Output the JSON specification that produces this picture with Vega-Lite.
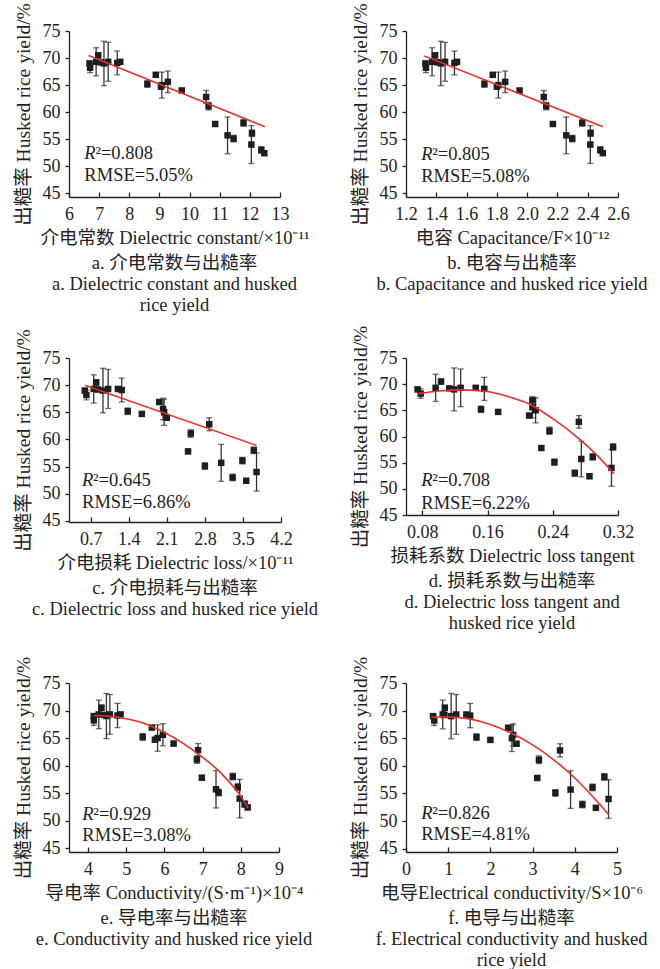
{
"$schema": "https://vega.github.io/schema/vega-lite/v6.json",
"padding": {"left": 12, "top": 2, "right": 5, "bottom": 2},
"bounds": "flush",
"columns": 2,
"spacing": {"row": 161, "column": 125},
"datasets": {
"pts": [
{"p":"a","x":6.68,"y":69.0,"e":0.4},{"p":"a","x":6.70,"y":68.2,"e":0.9},{"p":"a","x":6.90,"y":69.3,"e":2.6},{"p":"a","x":6.97,"y":70.5,"e":0.5},{"p":"a","x":7.05,"y":69.2,"e":0.4},{"p":"a","x":7.16,"y":69.0,"e":4.1},{"p":"a","x":7.30,"y":69.3,"e":3.6},{"p":"a","x":7.70,"y":69.3,"e":0.3},{"p":"a","x":7.60,"y":69.1,"e":2.2},{"p":"a","x":8.60,"y":65.2,"e":0.6},{"p":"a","x":9.05,"y":64.7,"e":0.3},{"p":"a","x":8.88,"y":66.9,"e":0.3},{"p":"a","x":9.08,"y":65.0,"e":2.4},{"p":"a","x":9.28,"y":65.6,"e":2.0},{"p":"a","x":9.74,"y":64.0,"e":0.4},{"p":"a","x":10.63,"y":61.1,"e":0.7},{"p":"a","x":10.85,"y":57.8,"e":0.4},{"p":"a","x":11.46,"y":55.1,"e":0.6},{"p":"a","x":10.55,"y":62.8,"e":1.2},{"p":"a","x":11.26,"y":55.7,"e":3.4},{"p":"a","x":12.38,"y":53.0,"e":0.6},{"p":"a","x":12.07,"y":56.1,"e":0.6},{"p":"a","x":12.48,"y":52.4,"e":0.4},{"p":"a","x":11.79,"y":58.0,"e":0.6},{"p":"a","x":12.05,"y":54.0,"e":3.5},
{"p":"b","x":1.328,"y":69.0,"e":0.4},{"p":"b","x":1.332,"y":68.2,"e":0.9},{"p":"b","x":1.372,"y":69.3,"e":2.6},{"p":"b","x":1.392,"y":70.5,"e":0.5},{"p":"b","x":1.41,"y":69.2,"e":0.4},{"p":"b","x":1.43,"y":69.0,"e":4.1},{"p":"b","x":1.458,"y":69.3,"e":3.6},{"p":"b","x":1.537,"y":69.3,"e":0.3},{"p":"b","x":1.52,"y":69.1,"e":2.2},{"p":"b","x":1.718,"y":65.2,"e":0.6},{"p":"b","x":1.80,"y":64.7,"e":0.3},{"p":"b","x":1.773,"y":66.9,"e":0.3},{"p":"b","x":1.81,"y":65.0,"e":2.4},{"p":"b","x":1.855,"y":65.6,"e":2.0},{"p":"b","x":1.95,"y":64.0,"e":0.4},{"p":"b","x":2.126,"y":61.1,"e":0.7},{"p":"b","x":2.17,"y":57.8,"e":0.4},{"p":"b","x":2.298,"y":55.1,"e":0.6},{"p":"b","x":2.11,"y":62.8,"e":1.2},{"p":"b","x":2.258,"y":55.7,"e":3.4},{"p":"b","x":2.483,"y":53.0,"e":0.6},{"p":"b","x":2.419,"y":56.1,"e":0.6},{"p":"b","x":2.50,"y":52.4,"e":0.4},{"p":"b","x":2.364,"y":58.0,"e":0.6},{"p":"b","x":2.417,"y":54.0,"e":3.5},
{"p":"c","x":0.59,"y":69.0,"e":0.4},{"p":"c","x":0.62,"y":68.2,"e":0.9},{"p":"c","x":0.755,"y":69.3,"e":2.6},{"p":"c","x":0.80,"y":70.5,"e":0.5},{"p":"c","x":0.83,"y":69.2,"e":0.4},{"p":"c","x":0.925,"y":69.0,"e":4.1},{"p":"c","x":1.02,"y":69.3,"e":3.6},{"p":"c","x":1.2,"y":69.3,"e":0.3},{"p":"c","x":1.27,"y":69.1,"e":2.2},{"p":"c","x":1.38,"y":65.2,"e":0.6},{"p":"c","x":1.64,"y":64.7,"e":0.3},{"p":"c","x":1.96,"y":66.9,"e":0.3},{"p":"c","x":2.05,"y":65.0,"e":2.4},{"p":"c","x":2.03,"y":65.6,"e":2.0},{"p":"c","x":2.1,"y":64.0,"e":0.4},{"p":"c","x":2.54,"y":61.1,"e":0.7},{"p":"c","x":2.49,"y":57.8,"e":0.4},{"p":"c","x":2.8,"y":55.1,"e":0.6},{"p":"c","x":2.88,"y":62.8,"e":1.2},{"p":"c","x":3.1,"y":55.7,"e":3.4},{"p":"c","x":3.31,"y":53.0,"e":0.6},{"p":"c","x":3.49,"y":56.1,"e":0.6},{"p":"c","x":3.56,"y":52.4,"e":0.4},{"p":"c","x":3.7,"y":58.0,"e":0.6},{"p":"c","x":3.75,"y":54.0,"e":3.5},
{"p":"d","x":0.0742,"y":69.0,"e":0.4},{"p":"d","x":0.078,"y":68.2,"e":0.9},{"p":"d","x":0.0963,"y":69.3,"e":2.6},{"p":"d","x":0.103,"y":70.5,"e":0.5},{"p":"d","x":0.113,"y":69.2,"e":0.4},{"p":"d","x":0.119,"y":69.0,"e":4.1},{"p":"d","x":0.127,"y":69.3,"e":3.6},{"p":"d","x":0.1455,"y":69.3,"e":0.3},{"p":"d","x":0.156,"y":69.1,"e":2.2},{"p":"d","x":0.152,"y":65.2,"e":0.6},{"p":"d","x":0.173,"y":64.7,"e":0.3},{"p":"d","x":0.215,"y":66.9,"e":0.3},{"p":"d","x":0.219,"y":65.0,"e":2.4},{"p":"d","x":0.215,"y":65.6,"e":2.0},{"p":"d","x":0.211,"y":64.0,"e":0.4},{"p":"d","x":0.236,"y":61.1,"e":0.7},{"p":"d","x":0.226,"y":57.8,"e":0.4},{"p":"d","x":0.242,"y":55.1,"e":0.6},{"p":"d","x":0.272,"y":62.8,"e":1.2},{"p":"d","x":0.275,"y":55.7,"e":3.4},{"p":"d","x":0.267,"y":53.0,"e":0.6},{"p":"d","x":0.289,"y":56.1,"e":0.6},{"p":"d","x":0.285,"y":52.4,"e":0.4},{"p":"d","x":0.314,"y":58.0,"e":0.6},{"p":"d","x":0.312,"y":54.0,"e":3.5},
{"p":"e","x":4.15,"y":69.0,"e":0.4},{"p":"e","x":4.15,"y":68.2,"e":0.9},{"p":"e","x":4.28,"y":69.3,"e":2.6},{"p":"e","x":4.35,"y":70.5,"e":0.5},{"p":"e","x":4.42,"y":69.2,"e":0.4},{"p":"e","x":4.48,"y":69.0,"e":4.1},{"p":"e","x":4.57,"y":69.3,"e":3.6},{"p":"e","x":4.85,"y":69.3,"e":0.3},{"p":"e","x":4.77,"y":69.1,"e":2.2},{"p":"e","x":5.43,"y":65.2,"e":0.6},{"p":"e","x":5.75,"y":64.7,"e":0.3},{"p":"e","x":5.67,"y":66.9,"e":0.3},{"p":"e","x":5.82,"y":65.0,"e":2.4},{"p":"e","x":5.96,"y":65.6,"e":2.0},{"p":"e","x":6.24,"y":64.0,"e":0.4},{"p":"e","x":6.85,"y":61.1,"e":0.7},{"p":"e","x":6.98,"y":57.8,"e":0.4},{"p":"e","x":7.42,"y":55.1,"e":0.6},{"p":"e","x":6.88,"y":62.8,"e":1.2},{"p":"e","x":7.35,"y":55.7,"e":3.4},{"p":"e","x":8.10,"y":53.0,"e":0.6},{"p":"e","x":7.92,"y":56.1,"e":0.6},{"p":"e","x":8.18,"y":52.4,"e":0.4},{"p":"e","x":7.79,"y":58.0,"e":0.6},{"p":"e","x":7.97,"y":54.0,"e":3.5},
{"p":"f","x":0.64,"y":69.0,"e":0.4},{"p":"f","x":0.67,"y":68.2,"e":0.9},{"p":"f","x":0.87,"y":69.3,"e":2.6},{"p":"f","x":0.92,"y":70.5,"e":0.5},{"p":"f","x":0.91,"y":69.2,"e":0.4},{"p":"f","x":1.07,"y":69.0,"e":4.1},{"p":"f","x":1.19,"y":69.3,"e":3.6},{"p":"f","x":1.43,"y":69.3,"e":0.3},{"p":"f","x":1.52,"y":69.1,"e":2.2},{"p":"f","x":1.67,"y":65.2,"e":0.6},{"p":"f","x":2.0,"y":64.7,"e":0.3},{"p":"f","x":2.42,"y":66.9,"e":0.3},{"p":"f","x":2.51,"y":65.0,"e":2.4},{"p":"f","x":2.54,"y":65.6,"e":2.0},{"p":"f","x":2.62,"y":64.0,"e":0.4},{"p":"f","x":3.15,"y":61.1,"e":0.7},{"p":"f","x":3.11,"y":57.8,"e":0.4},{"p":"f","x":3.54,"y":55.1,"e":0.6},{"p":"f","x":3.65,"y":62.8,"e":1.2},{"p":"f","x":3.9,"y":55.7,"e":3.4},{"p":"f","x":4.18,"y":53.0,"e":0.6},{"p":"f","x":4.42,"y":56.1,"e":0.6},{"p":"f","x":4.5,"y":52.4,"e":0.4},{"p":"f","x":4.7,"y":58.0,"e":0.6},{"p":"f","x":4.8,"y":54.0,"e":3.5}
],
"fit": [
{"p":"a","x":6.65,"y":70.45},{"p":"a","x":12.5,"y":57.3},
{"p":"b","x":1.32,"y":70.4},{"p":"b","x":2.5,"y":57.3},
{"p":"c","x":0.59,"y":70.0},{"p":"c","x":3.75,"y":58.9},
{"p":"d","x":0.075,"y":68.2},{"p":"d","x":0.10,"y":68.7},{"p":"d","x":0.13,"y":68.9},{"p":"d","x":0.16,"y":68.6},{"p":"d","x":0.19,"y":67.4},{"p":"d","x":0.21,"y":66.3},{"p":"d","x":0.24,"y":63.4},{"p":"d","x":0.272,"y":59.6},{"p":"d","x":0.295,"y":56.3},{"p":"d","x":0.315,"y":52.9},
{"p":"e","x":4.15,"y":69.1},{"p":"e","x":4.5,"y":69.0},{"p":"e","x":5.0,"y":68.5},{"p":"e","x":5.5,"y":67.6},{"p":"e","x":6.0,"y":66.0},{"p":"e","x":6.5,"y":64.0},{"p":"e","x":7.0,"y":61.5},{"p":"e","x":7.5,"y":58.5},{"p":"e","x":8.0,"y":54.4},{"p":"e","x":8.19,"y":52.3},
{"p":"f","x":0.6,"y":68.8},{"p":"f","x":0.9,"y":68.9},{"p":"f","x":1.5,"y":68.5},{"p":"f","x":2.0,"y":67.5},{"p":"f","x":2.5,"y":65.9},{"p":"f","x":3.0,"y":63.8},{"p":"f","x":3.5,"y":61.1},{"p":"f","x":4.0,"y":57.8},{"p":"f","x":4.5,"y":53.8},{"p":"f","x":4.8,"y":51.2}
],
"ann": [
{"p":"a","x":6.51,"y":52.4,"t":"R","it":true},{"p":"a","x":6.875,"y":52.4,"t":"²=0.808","it":false},{"p":"a","x":6.51,"y":48.4,"t":"RMSE=5.05%","it":false},
{"p":"b","x":1.30,"y":52.3,"t":"R","it":true},{"p":"b","x":1.373,"y":52.3,"t":"²=0.805","it":false},{"p":"b","x":1.30,"y":48.2,"t":"RMSE=5.08%","it":false},
{"p":"c","x":0.54,"y":52.5,"t":"R","it":true},{"p":"c","x":0.742,"y":52.5,"t":"²=0.645","it":false},{"p":"c","x":0.54,"y":48.4,"t":"RMSE=6.86%","it":false},
{"p":"d","x":0.0788,"y":51.6,"t":"R","it":true},{"p":"d","x":0.0923,"y":51.6,"t":"²=0.708","it":false},{"p":"d","x":0.0788,"y":47.3,"t":"RMSE=6.22%","it":false},
{"p":"e","x":3.85,"y":51.2,"t":"R","it":true},{"p":"e","x":4.138,"y":51.2,"t":"²=0.929","it":false},{"p":"e","x":3.85,"y":47.4,"t":"RMSE=3.08%","it":false},
{"p":"f","x":0.36,"y":51.4,"t":"R","it":true},{"p":"f","x":0.621,"y":51.4,"t":"²=0.826","it":false},{"p":"f","x":0.36,"y":47.7,"t":"RMSE=4.81%","it":false}
]
},
"concat": [
{"width": 211, "height": 166,
 "title": {"text": ["a. 介电常数与出糙率", "a. Dielectric constant and husked", "rice yield"]},
 "encoding": {
  "x": {"field": "x", "type": "quantitative", "scale": {"domain": [6, 13], "nice": false, "zero": false}, "axis": {"values": [6,7,8,9,10,11,12,13], "title": "介电常数  Dielectric constant/×10⁻¹¹"}},
  "y": {"field": "y", "type": "quantitative", "scale": {"domain": [44.3, 75], "nice": false, "zero": false}, "axis": {"values": [45,50,55,60,65,70,75], "title": "出糙率 Husked rice yield/%"}}},
 "layer": [
  {"data": {"name": "pts"}, "transform": [{"filter": "datum.p === 'a'"}], "mark": {"type": "errorbar", "rule": {"color": "#333", "strokeWidth": 1.3}, "ticks": {"color": "#333", "size": 6, "thickness": 1.3}}, "encoding": {"yError": {"field": "e"}}},
  {"data": {"name": "pts"}, "transform": [{"filter": "datum.p === 'a'"}], "mark": {"type": "point", "shape": "square", "filled": true, "size": 42, "color": "#1e1e1e", "opacity": 1}},
  {"data": {"name": "fit"}, "transform": [{"filter": "datum.p === 'a'"}], "mark": {"type": "line", "color": "#e8302a", "strokeWidth": 1.6, "interpolate": "monotone"}},
  {"data": {"name": "ann"}, "transform": [{"filter": "datum.p === 'a' && datum.it"}], "mark": {"type": "text", "fontStyle": "italic", "align": "left", "baseline": "middle", "fontSize": 18.5, "color": "#1e1e1e"}, "encoding": {"text": {"field": "t"}}},
  {"data": {"name": "ann"}, "transform": [{"filter": "datum.p === 'a' && !datum.it"}], "mark": {"type": "text", "align": "left", "baseline": "middle", "fontSize": 18.5, "color": "#1e1e1e"}, "encoding": {"text": {"field": "t"}}}
 ]},
{"width": 212, "height": 166,
 "title": {"text": ["b. 电容与出糙率", "b. Capacitance and husked rice yield"]},
 "encoding": {
  "x": {"field": "x", "type": "quantitative", "scale": {"domain": [1.2, 2.6], "nice": false, "zero": false}, "axis": {"values": [1.2,1.4,1.6,1.8,2.0,2.2,2.4,2.6], "format": ".1f", "title": "电容 Capacitance/F×10⁻¹²"}},
  "y": {"field": "y", "type": "quantitative", "scale": {"domain": [44.3, 75], "nice": false, "zero": false}, "axis": {"values": [45,50,55,60,65,70,75], "title": "出糙率 Husked rice yield/%"}}},
 "layer": [
  {"data": {"name": "pts"}, "transform": [{"filter": "datum.p === 'b'"}], "mark": {"type": "errorbar", "rule": {"color": "#333", "strokeWidth": 1.3}, "ticks": {"color": "#333", "size": 6, "thickness": 1.3}}, "encoding": {"yError": {"field": "e"}}},
  {"data": {"name": "pts"}, "transform": [{"filter": "datum.p === 'b'"}], "mark": {"type": "point", "shape": "square", "filled": true, "size": 42, "color": "#1e1e1e", "opacity": 1}},
  {"data": {"name": "fit"}, "transform": [{"filter": "datum.p === 'b'"}], "mark": {"type": "line", "color": "#e8302a", "strokeWidth": 1.6, "interpolate": "monotone"}},
  {"data": {"name": "ann"}, "transform": [{"filter": "datum.p === 'b' && datum.it"}], "mark": {"type": "text", "fontStyle": "italic", "align": "left", "baseline": "middle", "fontSize": 18.5, "color": "#1e1e1e"}, "encoding": {"text": {"field": "t"}}},
  {"data": {"name": "ann"}, "transform": [{"filter": "datum.p === 'b' && !datum.it"}], "mark": {"type": "text", "align": "left", "baseline": "middle", "fontSize": 18.5, "color": "#1e1e1e"}, "encoding": {"text": {"field": "t"}}}
 ]},
{"width": 212, "height": 164,
 "title": {"text": ["c. 介电损耗与出糙率", "c. Dielectric loss and husked rice yield"]},
 "encoding": {
  "x": {"field": "x", "type": "quantitative", "scale": {"domain": [0.3, 4.2], "nice": false, "zero": false}, "axis": {"values": [0.7,1.4,2.1,2.8,3.5,4.2], "format": ".1f", "title": "介电损耗 Dielectric loss/×10⁻¹¹"}},
  "y": {"field": "y", "type": "quantitative", "scale": {"domain": [44.8, 75], "nice": false, "zero": false}, "axis": {"values": [45,50,55,60,65,70,75], "title": "出糙率 Husked rice yield/%"}}},
 "layer": [
  {"data": {"name": "pts"}, "transform": [{"filter": "datum.p === 'c'"}], "mark": {"type": "errorbar", "rule": {"color": "#333", "strokeWidth": 1.3}, "ticks": {"color": "#333", "size": 6, "thickness": 1.3}}, "encoding": {"yError": {"field": "e"}}},
  {"data": {"name": "pts"}, "transform": [{"filter": "datum.p === 'c'"}], "mark": {"type": "point", "shape": "square", "filled": true, "size": 42, "color": "#1e1e1e", "opacity": 1}},
  {"data": {"name": "fit"}, "transform": [{"filter": "datum.p === 'c'"}], "mark": {"type": "line", "color": "#e8302a", "strokeWidth": 1.6, "interpolate": "monotone"}},
  {"data": {"name": "ann"}, "transform": [{"filter": "datum.p === 'c' && datum.it"}], "mark": {"type": "text", "fontStyle": "italic", "align": "left", "baseline": "middle", "fontSize": 18.5, "color": "#1e1e1e"}, "encoding": {"text": {"field": "t"}}},
  {"data": {"name": "ann"}, "transform": [{"filter": "datum.p === 'c' && !datum.it"}], "mark": {"type": "text", "align": "left", "baseline": "middle", "fontSize": 18.5, "color": "#1e1e1e"}, "encoding": {"text": {"field": "t"}}}
 ]},
{"width": 212, "height": 157,
 "title": {"text": ["d. 损耗系数与出糙率", "d. Dielectric loss tangent and", "husked rice yield"]},
 "encoding": {
  "x": {"field": "x", "type": "quantitative", "scale": {"domain": [0.06, 0.32], "nice": false, "zero": false}, "axis": {"values": [0.08,0.16,0.24,0.32], "format": ".2f", "title": "损耗系数 Dielectric loss tangent"}},
  "y": {"field": "y", "type": "quantitative", "scale": {"domain": [45, 75], "nice": false, "zero": false}, "axis": {"values": [45,50,55,60,65,70,75], "title": "出糙率 Husked rice yield/%"}}},
 "layer": [
  {"data": {"name": "pts"}, "transform": [{"filter": "datum.p === 'd'"}], "mark": {"type": "errorbar", "rule": {"color": "#333", "strokeWidth": 1.3}, "ticks": {"color": "#333", "size": 6, "thickness": 1.3}}, "encoding": {"yError": {"field": "e"}}},
  {"data": {"name": "pts"}, "transform": [{"filter": "datum.p === 'd'"}], "mark": {"type": "point", "shape": "square", "filled": true, "size": 42, "color": "#1e1e1e", "opacity": 1}},
  {"data": {"name": "fit"}, "transform": [{"filter": "datum.p === 'd'"}], "mark": {"type": "line", "color": "#e8302a", "strokeWidth": 1.6, "interpolate": "monotone"}},
  {"data": {"name": "ann"}, "transform": [{"filter": "datum.p === 'd' && datum.it"}], "mark": {"type": "text", "fontStyle": "italic", "align": "left", "baseline": "middle", "fontSize": 18.5, "color": "#1e1e1e"}, "encoding": {"text": {"field": "t"}}},
  {"data": {"name": "ann"}, "transform": [{"filter": "datum.p === 'd' && !datum.it"}], "mark": {"type": "text", "align": "left", "baseline": "middle", "fontSize": 18.5, "color": "#1e1e1e"}, "encoding": {"text": {"field": "t"}}}
 ]},
{"width": 210, "height": 169,
 "title": {"text": ["e. 导电率与出糙率", "e. Conductivity and husked rice yield"]},
 "encoding": {
  "x": {"field": "x", "type": "quantitative", "scale": {"domain": [3.5, 9], "nice": false, "zero": false}, "axis": {"values": [4,5,6,7,8,9], "title": "导电率 Conductivity/(S·m⁻¹)×10⁻⁴"}},
  "y": {"field": "y", "type": "quantitative", "scale": {"domain": [44.3, 75], "nice": false, "zero": false}, "axis": {"values": [45,50,55,60,65,70,75], "title": "出糙率 Husked rice yield/%"}}},
 "layer": [
  {"data": {"name": "pts"}, "transform": [{"filter": "datum.p === 'e'"}], "mark": {"type": "errorbar", "rule": {"color": "#333", "strokeWidth": 1.3}, "ticks": {"color": "#333", "size": 6, "thickness": 1.3}}, "encoding": {"yError": {"field": "e"}}},
  {"data": {"name": "pts"}, "transform": [{"filter": "datum.p === 'e'"}], "mark": {"type": "point", "shape": "square", "filled": true, "size": 42, "color": "#1e1e1e", "opacity": 1}},
  {"data": {"name": "fit"}, "transform": [{"filter": "datum.p === 'e'"}], "mark": {"type": "line", "color": "#e8302a", "strokeWidth": 1.6, "interpolate": "monotone"}},
  {"data": {"name": "ann"}, "transform": [{"filter": "datum.p === 'e' && datum.it"}], "mark": {"type": "text", "fontStyle": "italic", "align": "left", "baseline": "middle", "fontSize": 18.5, "color": "#1e1e1e"}, "encoding": {"text": {"field": "t"}}},
  {"data": {"name": "ann"}, "transform": [{"filter": "datum.p === 'e' && !datum.it"}], "mark": {"type": "text", "align": "left", "baseline": "middle", "fontSize": 18.5, "color": "#1e1e1e"}, "encoding": {"text": {"field": "t"}}}
 ]},
{"width": 211, "height": 169,
 "title": {"text": ["f. 电导与出糙率", "f. Electrical conductivity and husked", "rice yield"]},
 "encoding": {
  "x": {"field": "x", "type": "quantitative", "scale": {"domain": [0, 5], "nice": false, "zero": false}, "axis": {"values": [0,1,2,3,4,5], "title": "电导Electrical conductivity/S×10⁻⁶"}},
  "y": {"field": "y", "type": "quantitative", "scale": {"domain": [44.4, 75], "nice": false, "zero": false}, "axis": {"values": [45,50,55,60,65,70,75], "title": "出糙率 Husked rice yield/%"}}},
 "layer": [
  {"data": {"name": "pts"}, "transform": [{"filter": "datum.p === 'f'"}], "mark": {"type": "errorbar", "rule": {"color": "#333", "strokeWidth": 1.3}, "ticks": {"color": "#333", "size": 6, "thickness": 1.3}}, "encoding": {"yError": {"field": "e"}}},
  {"data": {"name": "pts"}, "transform": [{"filter": "datum.p === 'f'"}], "mark": {"type": "point", "shape": "square", "filled": true, "size": 42, "color": "#1e1e1e", "opacity": 1}},
  {"data": {"name": "fit"}, "transform": [{"filter": "datum.p === 'f'"}], "mark": {"type": "line", "color": "#e8302a", "strokeWidth": 1.6, "interpolate": "monotone"}},
  {"data": {"name": "ann"}, "transform": [{"filter": "datum.p === 'f' && datum.it"}], "mark": {"type": "text", "fontStyle": "italic", "align": "left", "baseline": "middle", "fontSize": 18.5, "color": "#1e1e1e"}, "encoding": {"text": {"field": "t"}}},
  {"data": {"name": "ann"}, "transform": [{"filter": "datum.p === 'f' && !datum.it"}], "mark": {"type": "text", "align": "left", "baseline": "middle", "fontSize": 18.5, "color": "#1e1e1e"}, "encoding": {"text": {"field": "t"}}}
 ]}
],
"config": {
 "view": {"stroke": null},
 "font": "Liberation Serif, Noto Sans CJK SC",
 "text": {"font": "Liberation Serif, Noto Sans CJK SC"},
 "axis": {"grid": false, "domainColor": "#222", "domainWidth": 1.3, "tickColor": "#222", "tickWidth": 1.3, "labelFont": "Liberation Serif, Noto Sans CJK SC", "labelFontSize": 18, "labelColor": "#222", "titleFont": "Liberation Serif, Noto Sans CJK SC", "titleFontSize": 18.5, "titleFontWeight": "normal", "titleColor": "#222", "labelFlush": false, "labelOverlap": false},
 "axisY": {"tickSize": 4, "labelPadding": 5, "titlePadding": 9, "titleFontSize": 19.5},
 "axisX": {"tickSize": -5, "labelPadding": 13, "titlePadding": 5},
 "title": {"font": "Liberation Serif, Noto Sans CJK SC", "fontSize": 18.5, "fontWeight": "normal", "color": "#222", "orient": "bottom", "anchor": "middle", "lineHeight": 21, "offset": 7}
}
}
